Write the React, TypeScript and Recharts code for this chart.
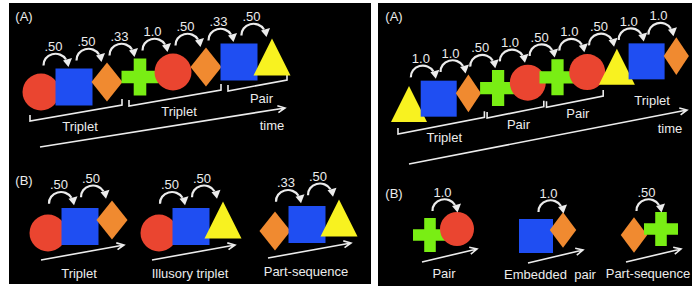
import {
  ComposedChart,
  ReferenceArea,
  ReferenceLine,
  Scatter,
  XAxis,
  YAxis,
} from "recharts";

type Kind = "circle" | "square" | "diamond" | "cross" | "triangle";

// (A) left: familiarisation stream, transition probabilities, chunks
const streamLeft: Kind[] = ["circle", "square", "diamond", "cross", "circle", "diamond", "square", "triangle"];
const probsLeft = [".50", ".50", ".33", "1.0", ".50", ".33", ".50"];
const chunksLeft = [
  { name: "Triplet", from: 0, to: 2 },
  { name: "Triplet", from: 3, to: 5 },
  { name: "Pair", from: 6, to: 7 },
];

// (B) left: test items
const testShapesLeft: Kind[][] = [
  ["circle", "square", "diamond"],
  ["circle", "square", "triangle"],
  ["diamond", "square", "triangle"],
];
const testProbsLeft = [[".50", ".50"], [".50", ".50"], [".33", ".50"]];
const testNamesLeft = ["Triplet", "Illusory triplet", "Part-sequence"];

// (A) right
const streamRight: Kind[] = ["triangle", "square", "diamond", "cross", "circle", "cross", "circle", "triangle", "square", "diamond"];
const probsRight = ["1.0", "1.0", ".50", "1.0", ".50", "1.0", ".50", "1.0", "1.0"];
const chunksRight = [
  { name: "Triplet", from: 0, to: 2 },
  { name: "Pair", from: 3, to: 4 },
  { name: "Pair", from: 5, to: 6 },
  { name: "Triplet", from: 7, to: 9 },
];

// (B) right
const testShapesRight: Kind[][] = [["cross", "circle"], ["square", "diamond"], ["diamond", "cross"]];
const testProbsRight = [["1.0"], ["1.0"], [".50"]];
const testNamesRight = ["Pair", "Embedded  pair", "Part-sequence"];

const W = 692;
const H = 288;
const INK = "#ececec";
const FONT = "'Liberation Sans', Arial, sans-serif";
const FILL: Record<Kind, string> = {
  circle: "#ea4530",
  square: "#1f4ef2",
  diamond: "#f08a30",
  cross: "#79ee14",
  triangle: "#f8f220",
};

// layout (pixels, since the axes map 1:1)
const streamA = [
  { stream: streamLeft, probs: probsLeft, chunks: chunksLeft, x0: 41, y0: 92, dx: 33, dy: -5, size: 37, dw: 0.84, hop: [-4, -43], bl: [-11, 29], br: [15, 23], bt: [4, 13] },
  { stream: streamRight, probs: probsRight, chunks: chunksRight, x0: 409, y0: 104, dx: 29.7, dy: -5.33, size: 36, dw: 0.7, hop: [-3, -43], bl: [-11, 30], br: [16, 24], bt: [3, 12] },
];
const testB = [
  { shapes: testShapesLeft, probs: testProbsLeft, names: testNamesLeft, starts: [[48, 233], [159, 233], [275, 231]], dx: 32, dy: -6.5, size: 37, dw: 0.84, hop: [-5, -45], arrow: [[-7, 27], [76, 12]], cap: [31, 40] },
  { shapes: testShapesRight, probs: testProbsRight, names: testNamesRight, starts: [[430, 235], [536, 236], [634, 235]], dx: 27, dy: -6, size: 34, dw: 0.78, hop: [-1, -40], arrow: [[-8, 27], [47, 14]], cap: [14, 38] },
];
const timeArrows = [
  { from: [40, 147], to: [285, 108], label: [272, 125] },
  { from: [409, 164], to: [687, 110], label: [670, 128] },
];
const panels = [
  { x1: 9, x2: 371, y1: 3, y2: 284, a: [24, 16], b: [24, 180] },
  { x1: 378, x2: 692, y1: 3, y2: 286, a: [394, 16], b: [394, 193] },
];

type Glyph = { x: number; y: number; kind: Kind; s: number; dw: number };
type Hop = { x: number; y: number; p: string };
type Txt = { x: number; y: number; text: string };
type Seg = { a: number[]; b: number[] };

const glyphs: Glyph[] = [];
const hops: Hop[] = [];
const texts: Txt[] = [];
const brackets: Seg[] = [];
const arrows: Seg[] = [];

streamA.forEach((c) => {
  const pos = c.stream.map((_, i) => [c.x0 + c.dx * i, c.y0 + c.dy * i]);
  c.stream.forEach((k, i) => glyphs.push({ x: pos[i][0], y: pos[i][1], kind: k, s: c.size, dw: c.dw }));
  c.probs.forEach((p, i) => {
    const mx = (pos[i][0] + pos[i + 1][0]) / 2;
    const my = (pos[i][1] + pos[i + 1][1]) / 2;
    hops.push({ x: mx + c.hop[0], y: my + c.hop[1], p });
  });
  c.chunks.forEach((ch) => {
    const a = [pos[ch.from][0] + c.bl[0], pos[ch.from][1] + c.bl[1]];
    const b = [pos[ch.to][0] + c.br[0], pos[ch.to][1] + c.br[1]];
    brackets.push({ a, b });
    texts.push({ x: (a[0] + b[0]) / 2 + c.bt[0], y: (a[1] + b[1]) / 2 + c.bt[1], text: ch.name });
  });
});

testB.forEach((c) => {
  c.shapes.forEach((item, g) => {
    const [sx, sy] = c.starts[g];
    const pos = item.map((_, i) => [sx + c.dx * i, sy + c.dy * i]);
    item.forEach((k, i) => glyphs.push({ x: pos[i][0], y: pos[i][1], kind: k, s: c.size, dw: c.dw }));
    c.probs[g].forEach((p, i) => {
      const mx = (pos[i][0] + pos[i + 1][0]) / 2;
      const my = (pos[i][1] + pos[i + 1][1]) / 2;
      hops.push({ x: mx + c.hop[0], y: my + c.hop[1], p });
    });
    arrows.push({ a: [sx + c.arrow[0][0], sy + c.arrow[0][1]], b: [sx + c.arrow[1][0], sy + c.arrow[1][1]] });
    texts.push({ x: sx + c.cap[0], y: sy + c.cap[1], text: c.names[g] });
  });
});

timeArrows.forEach((t) => {
  arrows.push({ a: t.from, b: t.to });
  texts.push({ x: t.label[0], y: t.label[1], text: "time" });
});
panels.forEach((p) => {
  texts.push({ x: p.a[0], y: p.a[1], text: "(A)" });
  texts.push({ x: p.b[0], y: p.b[1], text: "(B)" });
});

function GlyphShape({ cx, cy, payload }: any) {
  const { kind, s, dw } = payload as Glyph;
  const h = s / 2;
  const fill = FILL[kind];
  if (kind === "circle") return <circle cx={cx} cy={cy} r={h} fill={fill} />;
  if (kind === "square") return <rect x={cx - h} y={cy - h} width={s} height={s} fill={fill} />;
  if (kind === "diamond") {
    const w = h * dw;
    const v = h * 1.05;
    return <polygon points={`${cx},${cy - v} ${cx + w},${cy} ${cx},${cy + v} ${cx - w},${cy}`} fill={fill} />;
  }
  if (kind === "cross") {
    const t = s * 0.17;
    const a = h - t;
    return (
      <path
        d={`M${cx - t},${cy - h}h${2 * t}v${a}h${a}v${2 * t}h${-a}v${a}h${-2 * t}v${-a}h${-a}v${-2 * t}h${a}z`}
        fill={fill}
      />
    );
  }
  return <polygon points={`${cx},${cy - h} ${cx + h},${cy + h} ${cx - h},${cy + h}`} fill={fill} />;
}

function HopShape({ cx, cy, payload }: any) {
  const { p } = payload as Hop;
  const yb = cy + 19;
  return (
    <g>
      <text x={cx} y={cy} textAnchor="middle" dominantBaseline="central" fill={INK} fontSize={13} fontFamily={FONT}>
        {p}
      </text>
      <path
        d={`M${cx - 10},${yb} A12,11 0 0 1 ${cx + 12.5},${yb - 6}`}
        fill="none"
        stroke={INK}
        strokeWidth={2.2}
      />
      <polygon points={`${cx + 15},${yb + 1.5} ${cx + 18.5},${yb - 7.5} ${cx + 9.5},${yb - 5}`} fill={INK} />
    </g>
  );
}

function TextShape({ cx, cy, payload }: any) {
  return (
    <text
      x={cx}
      y={cy}
      textAnchor="middle"
      dominantBaseline="central"
      fill={INK}
      fontSize={13}
      fontFamily={FONT}
      style={{ whiteSpace: "pre" }}
    >
      {(payload as Txt).text}
    </text>
  );
}

function BracketShape({ x1, y1, x2, y2 }: any) {
  return (
    <path d={`M${x1},${y1 - 6}L${x1},${y1}L${x2},${y2}L${x2},${y2 - 6}`} fill="none" stroke={INK} strokeWidth={1.6} />
  );
}

function ArrowShape({ x1, y1, x2, y2 }: any) {
  const ang = Math.atan2(y2 - y1, x2 - x1);
  const len = 8;
  const spread = 0.45;
  const ax = x2 - len * Math.cos(ang - spread);
  const ay = y2 - len * Math.sin(ang - spread);
  const bx = x2 - len * Math.cos(ang + spread);
  const by = y2 - len * Math.sin(ang + spread);
  return (
    <path
      d={`M${x1},${y1}L${x2},${y2}M${ax},${ay}L${x2},${y2}L${bx},${by}`}
      fill="none"
      stroke={INK}
      strokeWidth={1.6}
    />
  );
}

export default function App() {
  return (
    <div style={{ position: "fixed", left: 0, top: 0, width: W, height: H, background: "#fff" }}>
      <ComposedChart width={W} height={H} margin={{ top: 0, right: 0, bottom: 0, left: 0 }}>
        <XAxis type="number" dataKey="x" domain={[0, W]} allowDataOverflow hide />
        <YAxis type="number" dataKey="y" domain={[0, H]} allowDataOverflow reversed hide />
        {panels.map((p, i) => (
          <ReferenceArea key={`p${i}`} x1={p.x1} x2={p.x2} y1={p.y1} y2={p.y2} fill="#000" fillOpacity={1} stroke="none" />
        ))}
        {brackets.map((b, i) => (
          <ReferenceLine
            key={`b${i}`}
            segment={[{ x: b.a[0], y: b.a[1] }, { x: b.b[0], y: b.b[1] }]}
            shape={BracketShape}
          />
        ))}
        {arrows.map((b, i) => (
          <ReferenceLine
            key={`a${i}`}
            segment={[{ x: b.a[0], y: b.a[1] }, { x: b.b[0], y: b.b[1] }]}
            shape={ArrowShape}
          />
        ))}
        <Scatter data={glyphs} shape={GlyphShape} isAnimationActive={false} />
        <Scatter data={hops} shape={HopShape} isAnimationActive={false} />
        <Scatter data={texts} shape={TextShape} isAnimationActive={false} />
      </ComposedChart>
    </div>
  );
}
